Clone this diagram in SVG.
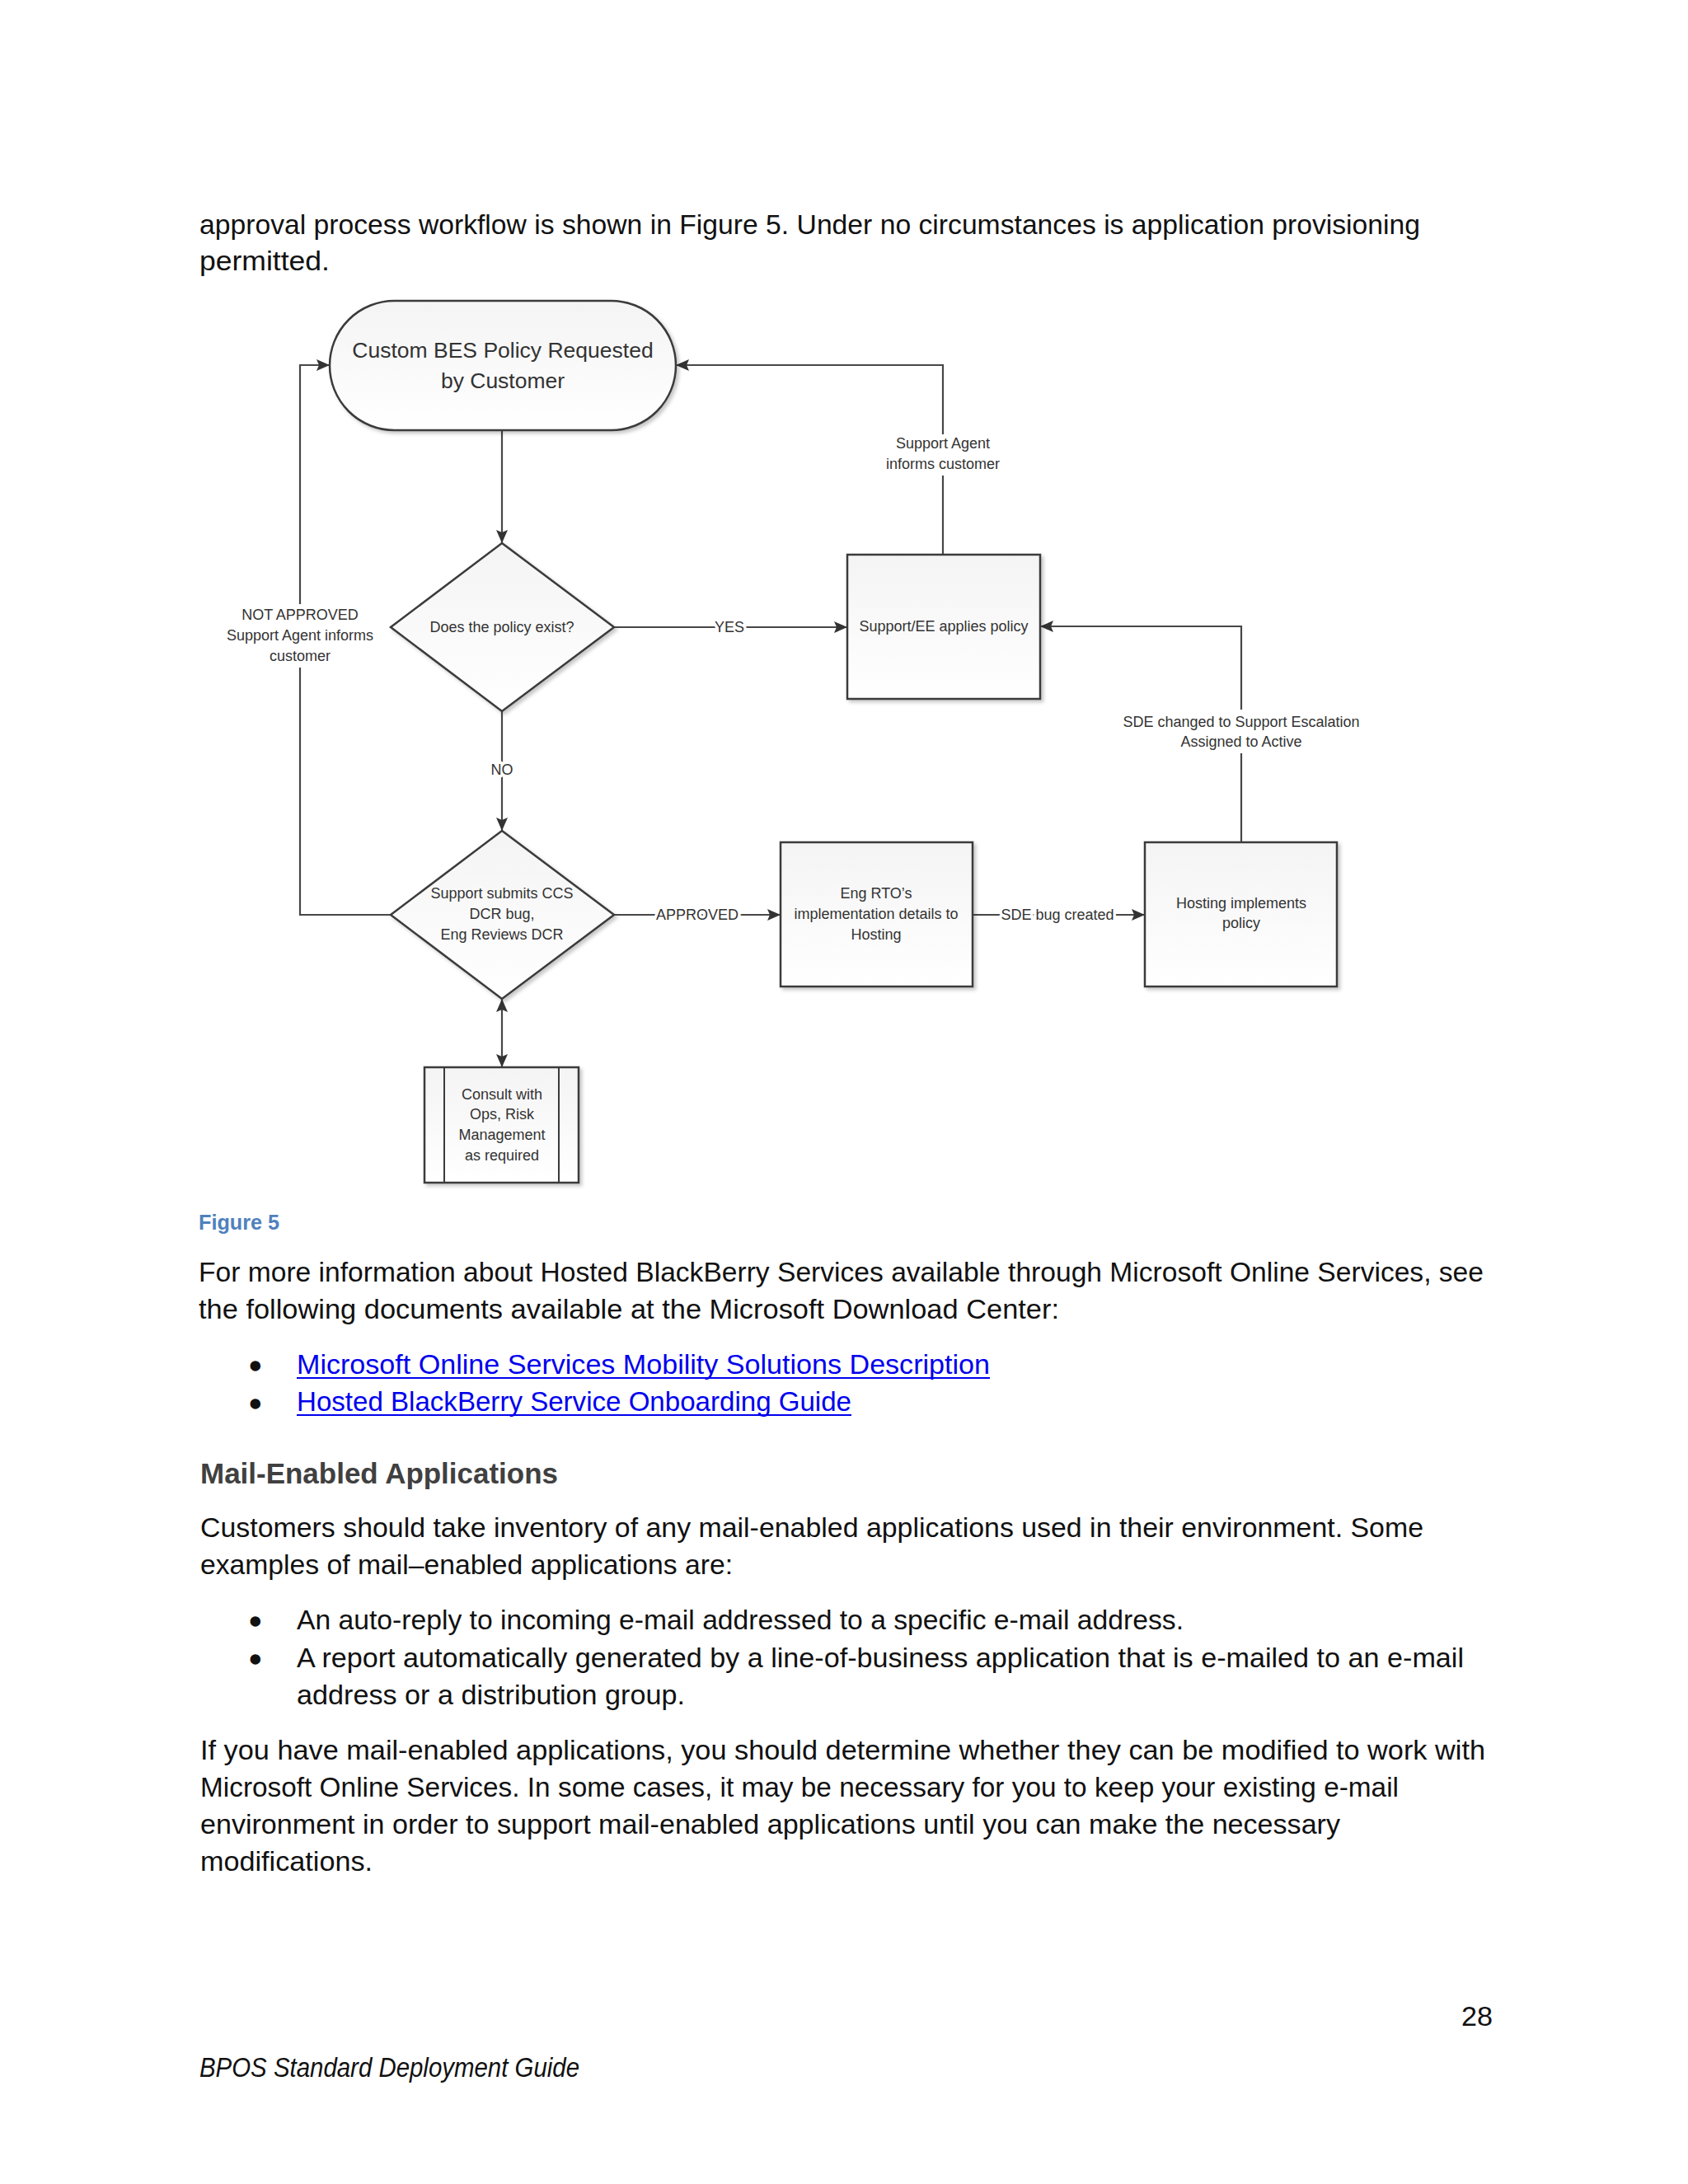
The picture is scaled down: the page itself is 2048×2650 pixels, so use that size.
<svg xmlns="http://www.w3.org/2000/svg" width="2048" height="2650" viewBox="0 0 2048 2650">
<defs>
<style>
.body{font-family:"Liberation Sans",Arial,sans-serif;font-size:33px;fill:#111}
.bul{font-family:"Liberation Sans",Arial,sans-serif;font-size:33px;fill:#111;stroke:#111;stroke-width:3.5px}
.link{font-family:"Liberation Sans",Arial,sans-serif;font-size:33px;fill:#0000ee}
.head{font-family:"Liberation Sans",Arial,sans-serif;font-size:35px;font-weight:bold;fill:#404040}
.cap{font-family:"Liberation Sans",Arial,sans-serif;font-size:26px;font-weight:bold;fill:#4f81bd}
.foot{font-family:"Liberation Sans",Arial,sans-serif;font-size:33px;font-style:italic;fill:#111}
.lbl{font-family:"Liberation Sans",Arial,sans-serif;font-size:18px;fill:#333;text-anchor:middle}
.big{font-family:"Liberation Sans",Arial,sans-serif;font-size:26.5px;fill:#333;text-anchor:middle}
.bg{stroke:#fff;stroke-width:7px;paint-order:stroke;stroke-linejoin:round}
.ln{fill:none;stroke:#474747;stroke-width:2.2}
.shape{fill:url(#fillg);stroke:#3a3a3a;stroke-width:2.5;filter:url(#sh)}
.inner{fill:none;stroke:#3a3a3a;stroke-width:2}
.ul{stroke:#0000ee;stroke-width:2.2}
</style>
<linearGradient id="fillg" x1="0" y1="0" x2="0" y2="1">
<stop offset="0" stop-color="#f4f4f4"/>
<stop offset="1" stop-color="#ffffff"/>
</linearGradient>
<filter id="sh" x="-10%" y="-10%" width="125%" height="125%">
<feDropShadow dx="3" dy="3" stdDeviation="2" flood-color="#000" flood-opacity="0.22"/>
</filter>
<marker id="ah" viewBox="0 0 16 14" markerWidth="16" markerHeight="14" refX="16" refY="7" orient="auto-start-reverse" markerUnits="userSpaceOnUse">
<path d="M0,0 L16,7 L0,14 L3,7 z" fill="#333"/>
</marker>
</defs>
<rect x="0" y="0" width="2048" height="2650" fill="#ffffff"/>

<g id="page-text-top">
<text class="body" x="242" y="284" textLength="1481" lengthAdjust="spacingAndGlyphs">approval process workflow is shown in Figure 5. Under no circumstances is application provisioning</text>
<text class="body" x="242" y="328" textLength="158" lengthAdjust="spacingAndGlyphs">permitted.</text>
</g>

<g id="connectors">
<path class="ln" d="M609,522 V659" marker-end="url(#ah)"/>
<path class="ln" d="M745,761 H1028" marker-end="url(#ah)"/>
<path class="ln" d="M609,863 V1008" marker-end="url(#ah)"/>
<path class="ln" d="M476,1110 H364 V443 H400" marker-end="url(#ah)"/>
<path class="ln" d="M745,1110 H947" marker-end="url(#ah)"/>
<path class="ln" d="M1180,1110 H1389" marker-end="url(#ah)"/>
<path class="ln" d="M1506,1022 V760 H1262" marker-end="url(#ah)"/>
<path class="ln" d="M1144,673 V443 H820" marker-end="url(#ah)"/>
<path class="ln" d="M609,1212 V1295" marker-start="url(#ah)" marker-end="url(#ah)"/>
<rect x="1068" y="527" width="152" height="50" fill="#fff"/>
<text class="lbl" x="1144" y="544">Support Agent</text>
<text class="lbl" x="1144" y="569">informs customer</text>
<rect x="1352" y="861" width="308" height="53" fill="#fff"/>
<text class="lbl" x="1506" y="882">SDE changed to Support Escalation</text>
<text class="lbl" x="1506" y="906">Assigned to Active</text>
<rect x="262" y="733" width="204" height="77" fill="#fff"/>
<text class="lbl" x="364" y="752">NOT APPROVED</text>
<text class="lbl" x="364" y="777">Support Agent informs</text>
<text class="lbl" x="364" y="802">customer</text>
<text class="lbl bg" x="885" y="767">YES</text>
<text class="lbl bg" x="609" y="940">NO</text>
<text class="lbl bg" x="846" y="1116">APPROVED</text>
<text class="lbl bg" x="1283" y="1116">SDE bug created</text>
</g>

<g id="node-start">
<rect class="shape" x="400" y="365" width="420" height="157" rx="78.5" ry="78.5"/>
<text class="big" x="610" y="434">Custom BES Policy Requested</text>
<text class="big" x="610" y="471">by Customer</text>
</g>

<g id="node-policy-exists">
<polygon class="shape" points="609,659 745,761 609,863 474,761"/>
<text class="lbl" x="609" y="767">Does the policy exist?</text>
</g>

<g id="node-support-applies">
<rect class="shape" x="1028" y="673" width="234" height="175"/>
<text class="lbl" x="1145" y="766">Support/EE applies policy</text>
</g>

<g id="node-dcr">
<polygon class="shape" points="609,1008 745,1110 609,1212 474,1110"/>
<text class="lbl" x="609" y="1090">Support submits CCS</text>
<text class="lbl" x="609" y="1115">DCR bug,</text>
<text class="lbl" x="609" y="1140">Eng Reviews DCR</text>
</g>

<g id="node-eng-rto">
<rect class="shape" x="947" y="1022" width="233" height="175"/>
<text class="lbl" x="1063" y="1090">Eng RTO’s</text>
<text class="lbl" x="1063" y="1115">implementation details to</text>
<text class="lbl" x="1063" y="1140">Hosting</text>
</g>

<g id="node-hosting">
<rect class="shape" x="1389" y="1022" width="233" height="175"/>
<text class="lbl" x="1506" y="1102">Hosting implements</text>
<text class="lbl" x="1506" y="1126">policy</text>
</g>

<g id="node-consult">
<rect class="shape" x="515" y="1295" width="187" height="140"/>
<line class="inner" x1="539" y1="1295" x2="539" y2="1435"/>
<line class="inner" x1="678" y1="1295" x2="678" y2="1435"/>
<text class="lbl" x="609" y="1334">Consult with</text>
<text class="lbl" x="609" y="1358">Ops, Risk</text>
<text class="lbl" x="609" y="1383">Management</text>
<text class="lbl" x="609" y="1408">as required</text>
</g>

<g id="page-text-bottom">
<text class="cap" x="241" y="1492" textLength="98" lengthAdjust="spacingAndGlyphs">Figure 5</text>
<text class="body" x="241" y="1555" textLength="1559" lengthAdjust="spacingAndGlyphs">For more information about Hosted BlackBerry Services available through Microsoft Online Services, see</text>
<text class="body" x="241" y="1600" textLength="1044" lengthAdjust="spacingAndGlyphs">the following documents available at the Microsoft Download Center:</text>
<text class="bul" x="304" y="1669">•</text>
<text class="link" x="360" y="1667" textLength="841" lengthAdjust="spacingAndGlyphs">Microsoft Online Services Mobility Solutions Description</text>
<line class="ul" x1="360" y1="1672" x2="1201" y2="1672"/>
<text class="bul" x="304" y="1715">•</text>
<text class="link" x="360" y="1712" textLength="673" lengthAdjust="spacingAndGlyphs">Hosted BlackBerry Service Onboarding Guide</text>
<line class="ul" x1="360" y1="1717" x2="1033" y2="1717"/>
<text class="head" x="243" y="1800" textLength="434" lengthAdjust="spacingAndGlyphs">Mail-Enabled Applications</text>
<text class="body" x="243" y="1865" textLength="1484" lengthAdjust="spacingAndGlyphs">Customers should take inventory of any mail-enabled applications used in their environment. Some</text>
<text class="body" x="243" y="1910" textLength="646" lengthAdjust="spacingAndGlyphs">examples of mail–enabled applications are:</text>
<text class="bul" x="304" y="1979">•</text>
<text class="body" x="360" y="1977" textLength="1076" lengthAdjust="spacingAndGlyphs">An auto-reply to incoming e-mail addressed to a specific e-mail address.</text>
<text class="bul" x="304" y="2025">•</text>
<text class="body" x="360" y="2023" textLength="1416" lengthAdjust="spacingAndGlyphs">A report automatically generated by a line-of-business application that is e-mailed to an e-mail</text>
<text class="body" x="360" y="2068" textLength="471" lengthAdjust="spacingAndGlyphs">address or a distribution group.</text>
<text class="body" x="243" y="2135" textLength="1559" lengthAdjust="spacingAndGlyphs">If you have mail-enabled applications, you should determine whether they can be modified to work with</text>
<text class="body" x="243" y="2180" textLength="1454" lengthAdjust="spacingAndGlyphs">Microsoft Online Services. In some cases, it may be necessary for you to keep your existing e-mail</text>
<text class="body" x="243" y="2225" textLength="1383" lengthAdjust="spacingAndGlyphs">environment in order to support mail-enabled applications until you can make the necessary</text>
<text class="body" x="243" y="2270" textLength="209" lengthAdjust="spacingAndGlyphs">modifications.</text>
<text class="body" x="1773" y="2458" textLength="38" lengthAdjust="spacingAndGlyphs">28</text>
<text class="foot" x="242" y="2520" textLength="461" lengthAdjust="spacingAndGlyphs">BPOS Standard Deployment Guide</text>
</g>
</svg>
